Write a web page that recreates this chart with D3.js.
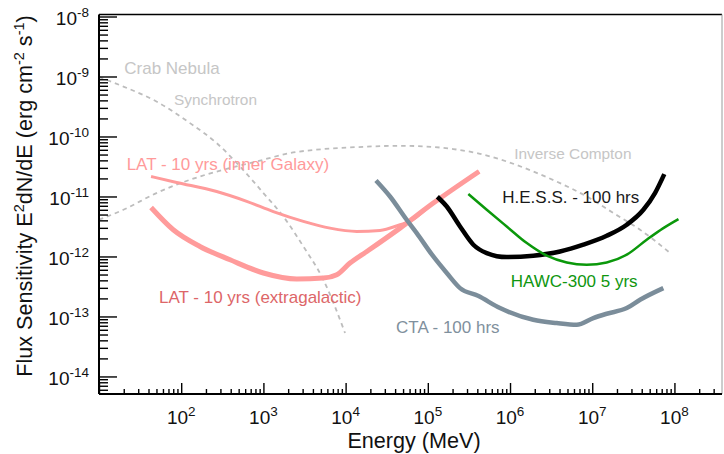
<!DOCTYPE html>
<html>
<head>
<meta charset="utf-8">
<script src="https://cdn.jsdelivr.net/npm/d3@7"></script>
<style>
  html, body { margin: 0; padding: 0; background: #ffffff; }
  svg { display: block; font-family: "Liberation Sans", Arial, Helvetica, sans-serif; }
</style>
</head>
<body>
<svg id="chart" width="724" height="454"></svg>
<script>
// Sensitivity curves: [energy in MeV, E^2 dN/dE in erg cm^-2 s^-1]
const latInnerGalaxy = [
  [43, 2.15e-11], [88, 1.71e-11], [270, 1.21e-11], [627, 8.3e-12], [1320, 5.6e-12],
  [3060, 3.85e-12], [6460, 2.97e-12], [13650, 2.62e-12], [26200, 2.72e-12],
  [45900, 3.38e-12], [60700, 3.85e-12], [116700, 7.76e-12], [420000, 2.61e-11]
];
const latExtragalactic = [
  [43, 6.56e-12], [80, 2.79e-12], [169, 1.47e-12], [393, 8.8e-13], [1000, 5.3e-13],
  [2540, 4.2e-13], [5360, 4.36e-13], [7800, 4.96e-13], [11300, 7.76e-13],
  [18100, 1.21e-12], [45900, 2.97e-12], [116700, 7.76e-12], [420000, 2.61e-11]
];
const ctaCurve = [
  [23400, 1.85e-11], [34700, 1.0e-11], [55300, 4.09e-12], [73300, 2.45e-12],
  [116700, 1.0e-12], [170000, 5.3e-13], [246600, 2.97e-13], [408000, 2.21e-13],
  [755000, 1.38e-13], [1.92e6, 8.8e-14], [3.7e6, 7.76e-14], [6.47e6, 7.27e-14],
  [1.03e7, 9.4e-14], [1.5e7, 1.11e-13], [2.63e7, 1.38e-13], [3.82e7, 1.9e-13],
  [7.33e7, 2.97e-13]
];
const hessCurve = [
  [130600, 9.9e-12], [170000, 6.8e-12], [246600, 3.16e-12], [358000, 1.57e-12],
  [521000, 1.14e-12], [912000, 9.77e-13], [1.92e6, 1.03e-12], [4.06e6, 1.21e-12],
  [7.8e6, 1.57e-12], [1.5e7, 2.21e-12], [2.63e7, 3.38e-12], [4.19e7, 6.0e-12],
  [5.8e7, 1.14e-11], [7.53e7, 2.36e-11]
];
const hawcCurve = [
  [311000, 1.1e-11], [521000, 6.0e-12], [912000, 3.16e-12], [1.6e6, 1.67e-12],
  [2.8e6, 1.03e-12], [4.9e6, 7.94e-13], [8.57e6, 7.27e-13], [1.5e7, 7.94e-13],
  [2.63e7, 1.07e-12], [4.6e7, 1.9e-12], [7.33e7, 2.97e-12], [1.12e8, 4.2e-12]
];
const crabSynchrotron = [
  [10, 9.8e-10], [19.8, 6.8e-10], [50, 3.83e-10], [128, 1.67e-10], [270, 7.76e-11],
  [519, 3.16e-11], [1000, 1.14e-11], [1746, 4.64e-12], [3060, 1.47e-12],
  [5360, 4.09e-13], [9840, 5.3e-14]
];
const crabInverseCompton = [
  [10, 4.09e-12], [19.8, 6.0e-12], [50, 1.14e-11], [128, 1.9e-11], [325, 2.79e-11],
  [828, 3.83e-11], [2110, 5.29e-11], [5360, 6.17e-11], [13650, 6.65e-11],
  [45900, 7.0e-11], [97000, 6.8e-11], [204000, 6.17e-11], [431000, 5.15e-11],
  [912000, 3.83e-11], [1.92e6, 2.61e-11], [4.06e6, 1.67e-11], [8.57e6, 1.0e-11],
  [1.81e7, 5.29e-12], [3.82e7, 2.79e-12], [9.1e7, 1.11e-12]
];

// Tick label exponents
const xTickExponents = [2, 3, 4, 5, 6, 7, 8];
const yTickExponents = [-14, -13, -12, -11, -10, -9, -8];

// Curve annotations: text, anchor point [energy, flux] of the text start (baseline)
const curveLabels = [
  { text: "Crab Nebula", at: [20.3, 1.1e-9], color: "#c6c6c6", size: 17 },
  { text: "Synchrotron", at: [81.7, 3.35e-10], color: "#c6c6c6", size: 15.4 },
  { text: "LAT - 10 yrs (inner Galaxy)", at: [21.7, 2.76e-11], color: "#ff9a9a", size: 17 },
  { text: "LAT - 10 yrs (extragalactic)", at: [53.7, 1.66e-13], color: "#dd6668", size: 17 },
  { text: "Inverse Compton", at: [1.127e6, 4.17e-11], color: "#c6c6c6", size: 15.4 },
  { text: "H.E.S.S. - 100 hrs", at: [8.05e5, 7.88e-12], color: "#1a1a1a", size: 17 },
  { text: "HAWC-300 5 yrs", at: [1.02e6, 3.14e-13], color: "#0f960f", size: 17 },
  { text: "CTA - 100 hrs", at: [4.1e4, 5.37e-14], color: "#7f909d", size: 17 }
];

(function drawChart() {
  const svg = d3.select("#chart");
  const left = 99, right = 722, plotTop = 14.5, bottom = 394;

  const x = d3.scaleLog().domain([10, 3.79e8]).range([left, right]);
  const y = d3.scaleLog().domain([5.1e-15, 1.08e-8]).range([bottom, plotTop]);

  const line = d3.line()
    .x(d => x(d[0]))
    .y(d => y(d[1]))
    .curve(d3.curveMonotoneX);

  svg.append("clipPath").attr("id", "plotClip")
    .append("rect").attr("x", left).attr("y", plotTop)
    .attr("width", right - left).attr("height", bottom - plotTop);
  const plot = svg.append("g").attr("clip-path", "url(#plotClip)");

  // Crab Nebula model components (dashed)
  [crabSynchrotron, crabInverseCompton].forEach(series => {
    plot.append("path").datum(series)
      .attr("d", line)
      .attr("fill", "none")
      .attr("stroke", "#bdbdbd")
      .attr("stroke-width", 1.8)
      .attr("stroke-dasharray", "4.5,4");
  });

  // Instrument sensitivity curves
  const curveStyles = [
    { data: latInnerGalaxy, color: "#ff9b9b", width: 3 },
    { data: latExtragalactic, color: "#ff9b9b", width: 5 },
    { data: ctaCurve, color: "#7b8d9a", width: 4.5 },
    { data: hessCurve, color: "#000000", width: 4.5 },
    { data: hawcCurve, color: "#0b980b", width: 2.5 }
  ];
  curveStyles.forEach(s => {
    plot.append("path").datum(s.data)
      .attr("d", line)
      .attr("fill", "none")
      .attr("stroke", s.color)
      .attr("stroke-width", s.width)
      .attr("stroke-linejoin", "round");
  });

  // Annotations
  curveLabels.forEach(l => {
    svg.append("text")
      .attr("x", x(l.at[0]))
      .attr("y", y(l.at[1]))
      .attr("fill", l.color)
      .attr("font-size", l.size)
      .text(l.text);
  });

  // Minor tick values for the log axes (2..9 within each decade)
  function minorTicks(scale) {
    const [a, b] = scale.domain();
    const out = [];
    for (let e = Math.floor(Math.log10(a)); e <= Math.ceil(Math.log10(b)); e++) {
      for (let k = 2; k <= 9; k++) {
        const v = k * Math.pow(10, e);
        if (v >= a && v <= b) out.push(v);
      }
    }
    return out;
  }
  function majorTicks(scale) {
    const [a, b] = scale.domain();
    const out = [];
    for (let e = Math.ceil(Math.log10(a)); e <= Math.floor(Math.log10(b)); e++) out.push(Math.pow(10, e));
    return out;
  }

  // Y axis: ticks drawn inward
  const yMinor = d3.axisLeft(y).tickValues(minorTicks(y)).tickSize(-9).tickFormat("");
  const yMajor = d3.axisLeft(y).tickValues(majorTicks(y)).tickSize(-18).tickFormat("");
  [yMinor, yMajor].forEach(ax => {
    const g = svg.append("g").attr("transform", `translate(${left},0)`).call(ax);
    g.select(".domain").remove();
    g.selectAll(".tick line").attr("stroke", "#000").attr("stroke-width", 1.4);
  });

  // X axis: ticks drawn inward
  const xMinor = d3.axisBottom(x).tickValues(minorTicks(x)).tickSize(-5).tickFormat("");
  const xMajor = d3.axisBottom(x).tickValues(majorTicks(x)).tickSize(-11).tickFormat("");
  [xMinor, xMajor].forEach(ax => {
    const g = svg.append("g").attr("transform", `translate(0,${bottom})`).call(ax);
    g.select(".domain").remove();
    g.selectAll(".tick line").attr("stroke", "#000").attr("stroke-width", 1.4);
  });

  // Frame
  svg.append("line").attr("x1", left).attr("x2", right).attr("y1", plotTop).attr("y2", plotTop)
    .attr("stroke", "#000").attr("stroke-width", 1.6);
  svg.append("line").attr("x1", right).attr("x2", right).attr("y1", plotTop).attr("y2", bottom)
    .attr("stroke", "#9a9a9a").attr("stroke-width", 1);
  svg.append("line").attr("x1", left).attr("x2", right).attr("y1", bottom).attr("y2", bottom)
    .attr("stroke", "#000").attr("stroke-width", 2);
  svg.append("line").attr("x1", left).attr("x2", left).attr("y1", plotTop).attr("y2", bottom)
    .attr("stroke", "#000").attr("stroke-width", 2);

  // Tick labels as powers of ten
  yTickExponents.forEach(e => {
    const t = svg.append("text")
      .attr("x", 89)
      .attr("y", y(Math.pow(10, e)) + 8.5)
      .attr("text-anchor", "end")
      .attr("font-size", 19)
      .attr("fill", "#111");
    t.append("tspan").text("10");
    t.append("tspan").attr("dy", -8).attr("font-size", 13.5).text(String(e));
  });
  xTickExponents.forEach(e => {
    const t = svg.append("text")
      .attr("x", x(Math.pow(10, e)))
      .attr("y", 423.5)
      .attr("text-anchor", "middle")
      .attr("font-size", 19)
      .attr("fill", "#111");
    t.append("tspan").text("10");
    t.append("tspan").attr("dy", -8).attr("font-size", 13.5).text(String(e));
  });

  // Axis titles
  svg.append("text")
    .attr("x", 414)
    .attr("y", 448)
    .attr("text-anchor", "middle")
    .attr("font-size", 21.6)
    .attr("fill", "#111")
    .text("Energy (MeV)");

  const yTitle = svg.append("text")
    .attr("transform", "translate(31.5,196) rotate(-90)")
    .attr("text-anchor", "middle")
    .attr("font-size", 21.6)
    .attr("fill", "#111");
  yTitle.append("tspan").text("Flux Sensitivity E");
  yTitle.append("tspan").attr("dy", -8).attr("font-size", 14.5).text("2");
  yTitle.append("tspan").attr("dy", 8).text("dN/dE (erg cm");
  yTitle.append("tspan").attr("dy", -8).attr("font-size", 14.5).text("-2");
  yTitle.append("tspan").attr("dy", 8).text(" s");
  yTitle.append("tspan").attr("dy", -8).attr("font-size", 14.5).text("-1");
  yTitle.append("tspan").attr("dy", 8).text(")");
})();
</script>
</body>
</html>
